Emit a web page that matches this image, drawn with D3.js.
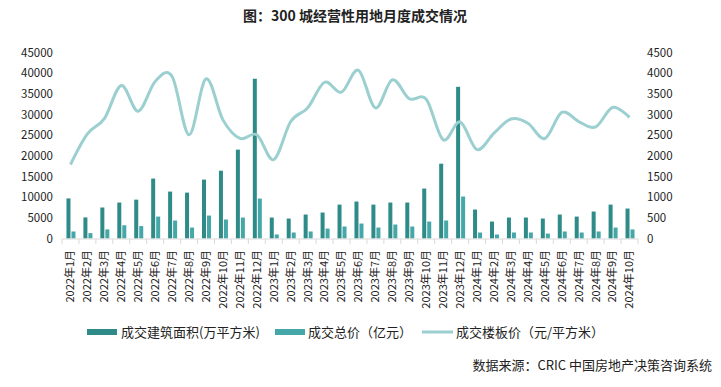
<!DOCTYPE html>
<html>
<head>
<meta charset="utf-8">
<script src="https://cdn.jsdelivr.net/npm/d3@7"></script>
<style>
  body { margin: 0; background: #fff; }
  text { font-family: "Noto Sans CJK SC", "Noto Sans", sans-serif; fill: #222; }
</style>
</head>
<body>
<div id="chart"></div>
<script>
// months 2022-01 .. 2024-10
const months = [
  "2022年1月", "2022年2月", "2022年3月", "2022年4月", "2022年5月", "2022年6月",
  "2022年7月", "2022年8月", "2022年9月", "2022年10月", "2022年11月", "2022年12月",
  "2023年1月", "2023年2月", "2023年3月", "2023年4月", "2023年5月", "2023年6月",
  "2023年7月", "2023年8月", "2023年9月", "2023年10月", "2023年11月", "2023年12月",
  "2024年1月", "2024年2月", "2024年3月", "2024年4月", "2024年5月", "2024年6月",
  "2024年7月", "2024年8月", "2024年9月", "2024年10月"
];
// 成交建筑面积（万平方米）
const area = [
  9700, 5100, 7500, 8700, 9400, 14500, 11350, 11100, 14250, 16400, 21500, 38650,
  5070, 4830, 5800, 6280, 8200, 8940, 8200, 8700, 8700, 12080, 18100, 36700,
  7000, 4100, 5070, 5070, 4830, 5800, 5300, 6520, 8200, 7250
];
// 成交总价（亿元）
const total = [
  1700, 1300, 2200, 3200, 3000, 5300, 4350, 2650, 5550, 4600, 5070, 9660,
  970, 1450, 1700, 2400, 2900, 3620, 2650, 3380, 2900, 4100, 4350, 10150,
  1450, 970, 1450, 1450, 1200, 1700, 1450, 1700, 2650, 2200
];
// 成交楼板价（元/平方米）
const price = [
  1790, 2530, 2900, 3700, 3080, 3800, 3920, 2510, 3860, 2870, 2420, 2510,
  1910, 2830, 3160, 3780, 3540, 4070, 3160, 3840, 3380, 3370, 2390, 2820,
  2150, 2550, 2890, 2790, 2420, 3050, 2830, 2700, 3170, 2930
];
const leftTicks = [0, 5000, 10000, 15000, 20000, 25000, 30000, 35000, 40000, 45000];
const rightTicks = [0, 500, 1000, 1500, 2000, 2500, 3000, 3500, 4000, 4500];

const W = 721, H = 387;
const colors = { area: "#2f8b88", total: "#46a7a9", price: "#9bcfd0" };

const svg = d3.select("#chart").append("svg")
  .attr("width", W).attr("height", H);

const x = d3.scaleBand().domain(months).range([62, 638]);
const yL = d3.scaleLinear().domain([0, 45000]).range([238.5, 52.5]);
const yR = d3.scaleLinear().domain([0, 4500]).range([238.5, 52.5]);

// title
svg.append("text")
  .attr("x", 355).attr("y", 21)
  .attr("text-anchor", "middle")
  .style("font-size", "14px").style("font-weight", "bold")
  .text("图：300 城经营性用地月度成交情况");

// left axis labels
svg.append("g").selectAll("text").data(leftTicks).join("text")
  .attr("x", 53).attr("y", d => yL(d)).attr("dy", "0.35em")
  .attr("text-anchor", "end").style("font-size", "11.5px")
  .text(d => d);

// right axis labels
svg.append("g").selectAll("text").data(rightTicks).join("text")
  .attr("x", 647).attr("y", d => yR(d)).attr("dy", "0.35em")
  .attr("text-anchor", "start").style("font-size", "11.5px")
  .text(d => d);

// bars
const bw = 4, gap = 1;
const groupW = bw * 2 + gap;
svg.append("g").selectAll("rect").data(months).join("rect")
  .attr("x", d => x(d) + x.bandwidth() / 2 - groupW / 2 + 0.5)
  .attr("y", (d, i) => yL(area[i]))
  .attr("width", bw)
  .attr("height", (d, i) => yL(0) - yL(area[i]))
  .attr("fill", colors.area);

svg.append("g").selectAll("rect").data(months).join("rect")
  .attr("x", d => x(d) + x.bandwidth() / 2 - groupW / 2 + 0.5 + bw + gap)
  .attr("y", (d, i) => yL(total[i]))
  .attr("width", bw)
  .attr("height", (d, i) => yL(0) - yL(total[i]))
  .attr("fill", colors.total);

// x axis
const xa = svg.append("g");
xa.append("line")
  .attr("x1", 62).attr("x2", 638).attr("y1", 239).attr("y2", 239)
  .attr("stroke", "#d9d9d9");
xa.selectAll("line.tk").data(d3.range(months.length + 1)).join("line")
  .attr("class", "tk")
  .attr("x1", i => 62 + i * x.step()).attr("x2", i => 62 + i * x.step())
  .attr("y1", 239).attr("y2", 244)
  .attr("stroke", "#d9d9d9");
xa.selectAll("text").data(months).join("text")
  .attr("transform", d => `translate(${x(d) + x.bandwidth() / 2},250) rotate(-90)`)
  .attr("dy", "0.35em")
  .attr("text-anchor", "end")
  .style("font-size", "11px")
  .text(d => d);

// line
const line = d3.line()
  .x((d, i) => x(months[i]) + x.bandwidth() / 2)
  .y(d => yR(d))
  .curve(d3.curveCatmullRom.alpha(0));
svg.append("path").datum(price)
  .attr("d", line)
  .attr("fill", "none")
  .attr("stroke", colors.price)
  .attr("stroke-width", 3)
  .attr("stroke-linejoin", "round");

// legend
const lg = svg.append("g");
const ly = 332;
lg.append("rect").attr("x", 87).attr("y", ly - 3).attr("width", 30).attr("height", 6).attr("fill", colors.area);
lg.append("text").attr("x", 121).attr("y", ly).attr("dy", "0.35em").style("font-size", "13px").text("成交建筑面积(万平方米)");
lg.append("rect").attr("x", 275).attr("y", ly - 3).attr("width", 30).attr("height", 6).attr("fill", colors.total);
lg.append("text").attr("x", 308).attr("y", ly).attr("dy", "0.35em").style("font-size", "13px").text("成交总价（亿元）");
lg.append("line").attr("x1", 422).attr("x2", 453).attr("y1", ly).attr("y2", ly)
  .attr("stroke", colors.price).attr("stroke-width", 3);
lg.append("text").attr("x", 456).attr("y", ly).attr("dy", "0.35em").style("font-size", "13px").text("成交楼板价（元/平方米）");

// source
svg.append("text")
  .attr("x", 712).attr("y", 370)
  .attr("text-anchor", "end")
  .style("font-size", "13px")
  .text("数据来源：CRIC 中国房地产决策咨询系统");
</script>
</body>
</html>
